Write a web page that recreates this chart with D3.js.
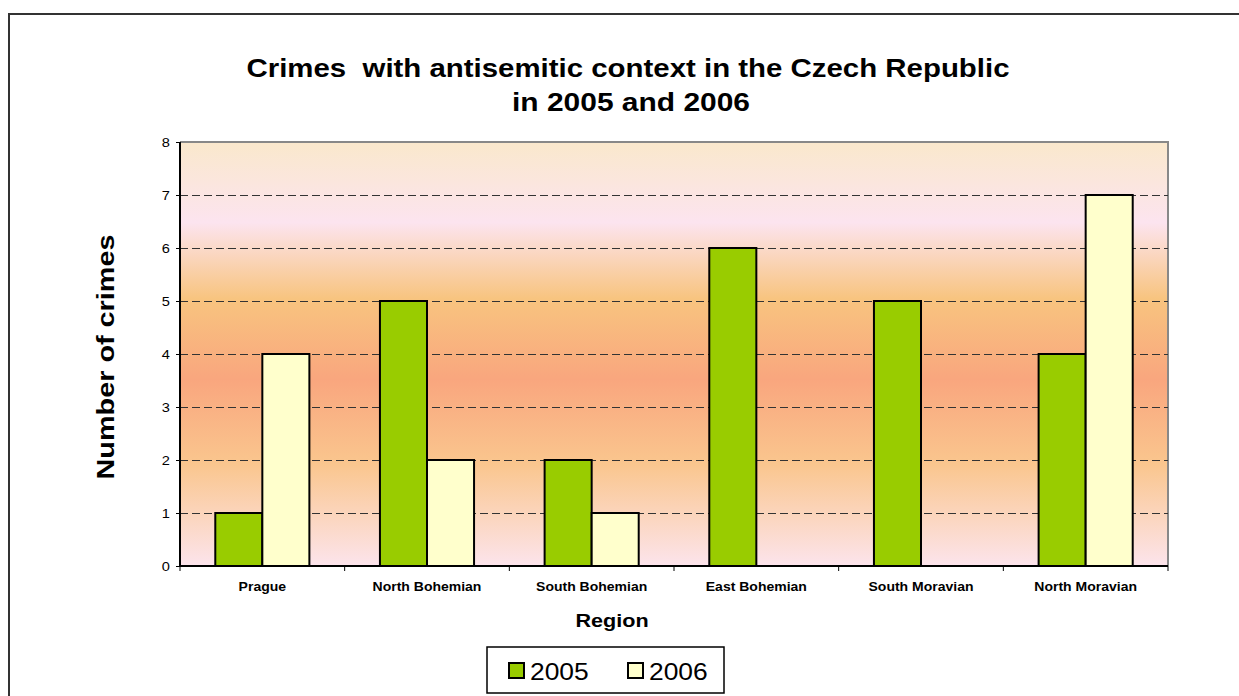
<!DOCTYPE html>
<html>
<head>
<meta charset="utf-8">
<script src="https://cdn.jsdelivr.net/npm/d3@7"></script>
<style>
body{margin:0;background:#fff;}
svg{font-family:Arial,"Liberation Sans",sans-serif;}
</style>
</head>
<body>
<script>
// data
var regions = ["Prague","North Bohemian","South Bohemian","East Bohemian","South Moravian","North Moravian"];
var years = ["2005","2006"];
var values2005 = [1,5,2,6,5,4];
var values2006 = [4,2,1,0,0,7];
var yTicks = [0,1,2,3,4,5,6,7,8];
var colors = ["#99CC00","#FFFFCC"];

var width = 1239, height = 696;
var margin = {left:180,right:71,top:142,bottom:130}; // plot area 180..1168, 142..566
var w = width - margin.left - margin.right;
var h = height - margin.top - margin.bottom;
var sx = 1.17; // original text looks stretched sideways

var svg = d3.select("body").append("svg").attr("width",width).attr("height",height);

// outer frame (runs off the right/bottom edge)
svg.append("path").attr("d","M9,"+height+"V14H"+width).attr("fill","none").attr("stroke","#333").attr("stroke-width",2);

// background gradient of the plot area
var grad = svg.append("defs").append("linearGradient").attr("id","bg")
  .attr("x1",0).attr("y1",0).attr("x2",0).attr("y2",1);
[[0,"#FAE8CC"],[0.19,"#FCE4EF"],[0.37,"#F8C47F"],[0.56,"#F9A67E"],[0.76,"#FAC68E"],[1,"#FCE4EC"]]
  .forEach(function(s){ grad.append("stop").attr("offset",s[0]).attr("stop-color",s[1]); });

var g = svg.append("g").attr("transform","translate("+margin.left+","+margin.top+")");

var x0 = d3.scaleBand().domain(regions).range([0,w]);
var barW = x0.bandwidth()/3.5;
var x1 = d3.scaleBand().domain(years).range([x0.bandwidth()/2-barW, x0.bandwidth()/2+barW]);
var y = d3.scaleLinear().domain([0,8]).range([h,0]);

g.append("rect").attr("width",w).attr("height",h).attr("fill","url(#bg)");
// gray top/right border
g.append("path").attr("d","M0,0H"+w+"V"+h).attr("fill","none").attr("stroke","#888").attr("stroke-width",2);

// dashed grid
g.selectAll(".grid").data(yTicks.filter(function(d){return d>0 && d<8;})).enter().append("line")
  .attr("x1",0).attr("x2",w).attr("y1",function(d){return y(d)+0.5;}).attr("y2",function(d){return y(d)+0.5;})
  .attr("stroke","#333").attr("stroke-width",1).attr("stroke-dasharray","8,4");

// bars
var rows = regions.map(function(r,i){ return {region:r, vals:[values2005[i],values2006[i]]}; });
var grp = g.selectAll(".cat").data(rows).enter().append("g")
  .attr("transform",function(d){return "translate("+x0(d.region)+",0)";});
grp.selectAll("rect").data(function(d){ return d.vals.map(function(v,k){return {year:years[k],v:v,k:k};}).filter(function(e){return e.v>0;}); })
  .enter().append("rect")
  .attr("x",function(d){return x1(d.year);})
  .attr("width",x1.bandwidth())
  .attr("y",function(d){return y(d.v);})
  .attr("height",function(d){return h-y(d.v);})
  .attr("fill",function(d){return colors[d.k];})
  .attr("stroke","#000").attr("stroke-width",2);

// y axis
var yAxis = d3.axisLeft(y).tickValues(yTicks).tickSize(4).tickPadding(0).tickFormat("");
var ya = g.append("g").call(yAxis);
ya.select(".domain").attr("stroke","#000").attr("stroke-width",2).attr("d","M0,0V"+h);
ya.selectAll(".tick line").attr("stroke","#000");
g.selectAll(".ylbl").data(yTicks).enter().append("text")
  .attr("transform",function(d){return "translate(-10,"+(y(d)+4.5)+") scale("+sx+",1)";})
  .attr("text-anchor","end").attr("font-size",12.5).text(function(d){return d;});

// x axis with ticks at category boundaries
var xa = g.append("g").attr("transform","translate(0,"+h+")");
xa.append("line").attr("x1",0).attr("x2",w).attr("stroke","#000").attr("stroke-width",2);
xa.selectAll(".tk").data(d3.range(regions.length+1)).enter().append("line")
  .attr("x1",function(i){return i*x0.step();}).attr("x2",function(i){return i*x0.step();})
  .attr("y1",0).attr("y2",5).attr("stroke","#000");
xa.selectAll(".lbl").data(regions).enter().append("text")
  .attr("transform",function(d){return "translate("+(x0(d)+x0.bandwidth()/2)+",25) scale(1.12,1)";})
  .attr("text-anchor","middle").attr("font-size",12.5).attr("font-weight","bold").text(function(d){return d;});

// titles
var title = svg.append("text").attr("text-anchor","middle").attr("font-size",25).attr("font-weight","bold")
  .style("white-space","pre");
title.append("tspan").attr("x",628).attr("y",77).attr("textLength",763).attr("lengthAdjust","spacingAndGlyphs")
  .text("Crimes  with antisemitic context in the Czech Republic");
title.append("tspan").attr("x",631).attr("y",111).attr("textLength",238).attr("lengthAdjust","spacingAndGlyphs")
  .text("in 2005 and 2006");

svg.append("text").attr("transform","translate(114,357) rotate(-90)").attr("text-anchor","middle")
  .attr("font-size",24).attr("font-weight","bold").attr("textLength",245).attr("lengthAdjust","spacingAndGlyphs")
  .text("Number of crimes");

svg.append("text").attr("transform","translate(612,627) scale(1.2,1)").attr("text-anchor","middle")
  .attr("font-size",18).attr("font-weight","bold").text("Region");

// legend
var leg = svg.append("g").attr("transform","translate(487,647)");
leg.append("rect").attr("width",237).attr("height",46).attr("fill","#fff").attr("stroke","#000").attr("stroke-width",1.5);
var li = leg.selectAll(".li").data(years).enter().append("g")
  .attr("transform",function(d,i){return "translate("+(22+i*119)+",16)";});
li.append("rect").attr("width",15).attr("height",15).attr("fill",function(d,i){return colors[i];})
  .attr("stroke","#000").attr("stroke-width",2);
li.append("text").attr("transform","translate(21,17) scale(1.1,1)").attr("font-size",24).text(function(d){return d;});
</script>
</body>
</html>
